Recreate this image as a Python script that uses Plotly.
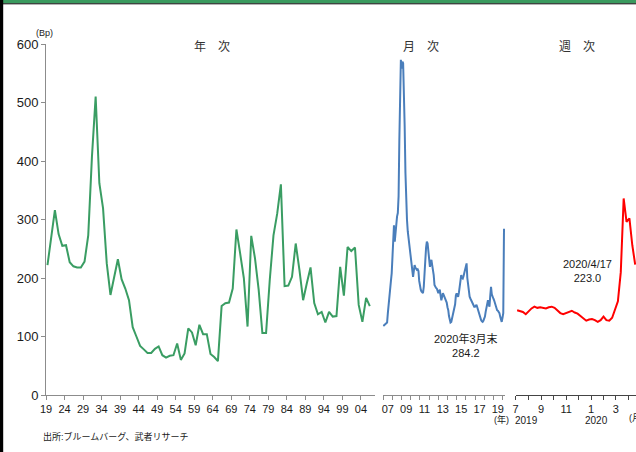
import plotly.graph_objects as go
import pandas as pd

# ---------------- data ----------------
annual_years = list(range(1919, 2007))
annual_values = [222, 268, 316, 275, 255, 256, 227, 220, 218, 218,
                 228, 273, 407, 510, 362, 319, 225, 171, 202, 232,
                 198, 182, 162, 116, 100, 84, 78, 72, 72, 79,
                 83, 68, 64, 67, 68, 88, 60, 71, 114, 107,
                 85, 120, 104, 104, 70, 65, 58, 152, 157, 158,
                 182, 283, 242, 200, 117, 272, 234, 180, 106, 106,
                 197, 273, 310, 360, 186, 187, 202, 259, 214, 162,
                 191, 218, 157, 138, 142, 124, 142, 134, 135, 219,
                 170, 253, 246, 252, 154, 125, 166, 152]
annual_tick_years = list(range(1919, 2005, 5))

monthly_start = "2007-01-01"
monthly_values = [
    118, 119, 120, 122, 123, 124, 140, 157, 165, 180, 195, 208,   # 2007
    230, 254, 290, 262, 280, 302, 305, 311, 340, 436, 550, 573,   # 2008
    558, 570, 567, 520, 460, 380, 330, 300, 280, 270, 256, 245,   # 2009
    240, 231, 215, 202, 212, 222, 218, 214, 214, 215, 212, 195,   # 2010
    185, 180, 177, 176, 174, 185, 200, 230, 252, 262, 259, 245,   # 2011
    228, 219, 226, 231, 222, 216, 205, 188, 184, 183, 182, 178,   # 2012
    174, 177, 180, 170, 162, 168, 174, 171, 168, 166, 162, 158,   # 2013
    150, 145, 135, 125, 124, 125, 132, 138, 143, 148, 155, 170,   # 2014
    174, 170, 168, 175, 185, 195, 205, 200, 199, 203, 208, 215,   # 2015
    222, 225, 200, 185, 178, 168, 165, 162, 160, 157, 155, 151,   # 2016
    151, 153, 154, 150, 145, 142, 137, 133, 128, 126, 125, 127,   # 2017
    130, 134, 142, 148, 155, 162, 155, 151, 170, 185, 172, 166,   # 2018
    165, 162, 158, 151, 147, 145, 144, 142, 140, 134, 128, 125,   # 2019
    132, 140, 284.2]                                              # 2020
monthly_tick_years = list(range(2007, 2020, 2))

weekly_start = "2019-07-05"
weekly_values = [145, 144, 142, 138, 143, 148, 151, 149, 150, 149,
                 148, 150, 151, 149, 145, 140, 138, 140, 143, 144,
                 141, 139, 135, 131, 127, 129, 130, 128, 125, 128,
                 134, 128, 127, 132, 145, 160, 210, 336, 296, 302,
                 256, 223.0]
weekly_tick_months = pd.date_range("2019-07-01", "2020-04-01", freq="MS")

monthly_dates = pd.date_range(monthly_start, periods=len(monthly_values), freq="MS")
weekly_dates = pd.date_range(weekly_start, periods=len(weekly_values), freq="7D")

# ---------------- layout helpers ----------------
W, H = 636, 452
ML, MR, MT, MB = 46, 0, 44, 57
PW, PH = W - ML - MR, H - MT - MB


def px(x):
    return (x - ML) / PW


def py(y):
    return (H - MB - y) / PH


FONT = "Liberation Sans, Arial, Noto Sans CJK JP, sans-serif"
GREEN = "#3a9d63"
BLUE = "#4a7ebb"
RED = "#ff0000"
AXC = "#8c8c8c"

fig = go.Figure()
fig.add_trace(go.Scatter(x=annual_years, y=annual_values, mode="lines",
                         line=dict(color=GREEN, width=2), xaxis="x", yaxis="y"))
fig.add_trace(go.Scatter(x=monthly_dates, y=monthly_values, mode="lines",
                         line=dict(color=BLUE, width=2), xaxis="x2", yaxis="y"))
fig.add_trace(go.Scatter(x=weekly_dates, y=weekly_values, mode="lines",
                         line=dict(color=RED, width=2), xaxis="x3", yaxis="y"))

tickfont = dict(family=FONT, size=11, color="#1a1a1a")

fig.update_layout(
    width=W, height=H,
    margin=dict(l=ML, r=MR, t=MT, b=MB),
    paper_bgcolor="white", plot_bgcolor="white",
    showlegend=False,
    font=dict(family=FONT, color="#1a1a1a"),
    xaxis=dict(domain=[0, px(375)], range=[1918.6, 2007.4],
               tickvals=[y - 0.4 for y in annual_tick_years],
               ticktext=[f"{y % 100:02d}" for y in annual_tick_years],
               ticks="outside", ticklen=4, tickcolor=AXC,
               showline=True, linecolor=AXC, linewidth=1,
               showgrid=False, zeroline=False, tickfont=tickfont, anchor="y",
               automargin=False),
    xaxis2=dict(domain=[px(382.7), px(505)],
                range=["2006-12-08", "2020-04-10"],
                tickvals=[f"{y}-07-01" for y in monthly_tick_years],
                ticktext=[f"{y % 100:02d}" for y in monthly_tick_years],
                ticks="outside", ticklen=4, tickcolor="rgba(0,0,0,0)",
                minor=dict(tickvals=[f"{y}-01-01" for y in range(2007, 2021)],
                           ticks="outside", ticklen=4, tickcolor=AXC, showgrid=False),
                showline=True, linecolor=AXC, linewidth=1,
                showgrid=False, zeroline=False, tickfont=tickfont, anchor="y",
                automargin=False),
    xaxis3=dict(domain=[px(515.5), 1.0],
                range=["2019-07-01", "2020-04-19"],
                tickvals=list(weekly_tick_months),
                ticktext=[str(d.month) if i % 2 == 0 else "" for i, d in enumerate(weekly_tick_months)],
                ticks="outside", ticklen=4, tickcolor="#444",
                showline=True, linecolor="#444", linewidth=1,
                showgrid=False, zeroline=False, tickfont=tickfont, anchor="y",
                automargin=False),
    yaxis=dict(range=[0, 600], tickvals=list(range(0, 601, 100)),
               ticks="outside", ticklen=4, tickcolor=AXC,
               showline=True, linecolor=AXC, linewidth=1,
               showgrid=False, zeroline=False, automargin=False,
               tickfont=dict(family=FONT, size=13, color="#1a1a1a")),
)

ann = []


def add_text(text, x, y, size, color="#1a1a1a", xanchor="center", xref="paper", yref="paper"):
    ann.append(dict(text=text, x=x, y=y, xref=xref, yref=yref, showarrow=False,
                    xanchor=xanchor, yanchor="middle",
                    font=dict(family=FONT, size=size, color=color)))


add_text("年\u3000次", px(212), py(47), 12, "#333")
add_text("月\u3000次", px(421), py(47), 12, "#333")
add_text("週\u3000次", px(577), py(47), 12, "#333")
add_text("(Bp)", px(44), py(33), 9)
add_text("2020年3月末<br>284.2", px(466), py(345), 11)
add_text("2020/4/17<br>223.0", px(587), py(271), 11)
add_text("(年)", px(501), py(419), 9)
add_text("2019", px(526), py(421), 10)
add_text("2020", px(596), py(421), 10)
add_text("(月)", px(627), py(418), 9, xanchor="left")
add_text("出所:ブルームバーグ、武者リサーチ", px(41), py(436), 9, xanchor="left")
fig.update_layout(annotations=ann)

# frame decorations (slide border)
fig.add_shape(type="rect", xref="paper", yref="paper",
              x0=px(0), x1=px(W), y0=py(0), y1=py(3.2),
              fillcolor="#3a9a5e", line=dict(width=0), layer="above")
fig.add_shape(type="line", xref="paper", yref="paper",
              x0=px(0), x1=px(W), y0=py(3.8), y1=py(3.8),
              line=dict(color="black", width=1), layer="above")
fig.add_shape(type="rect", xref="paper", yref="paper",
              x0=px(0), x1=px(3.2), y0=py(0), y1=py(H),
              fillcolor="black", line=dict(width=0), layer="above")

fig.write_html("out.html", config={"displayModeBar": False},
               post_script="document.body.style.margin='0';document.body.style.overflow='hidden';")
